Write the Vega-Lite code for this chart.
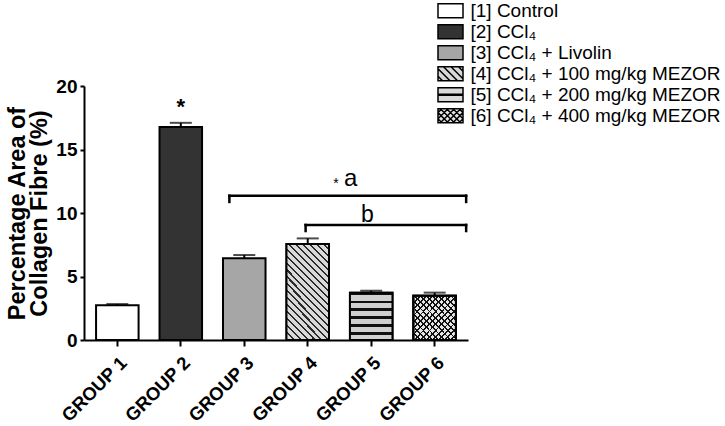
{
  "$schema": "https://vega.github.io/schema/vega-lite/v6.json",
  "width": 384,
  "height": 254,
  "autosize": "none",
  "padding": {"left": 84, "top": 86, "right": 257, "bottom": 86},
  "background": "white",
  "config": {
    "view": {"stroke": null},
    "font": "Liberation Sans",
    "axis": {"grid": false, "domainColor": "black", "domainWidth": 2, "tickColor": "black", "tickWidth": 2, "labelColor": "black", "titleColor": "black", "labelFont": "Liberation Sans", "titleFont": "Liberation Sans"}
  },
  "datasets": {
    "bars": [
      {"group": "GROUP 1", "treatment": "[1] Control", "value": 2.73, "upper": 2.83},
      {"group": "GROUP 2", "treatment": "[2] CCl₄", "value": 16.77, "upper": 17.1},
      {"group": "GROUP 3", "treatment": "[3] CCl₄ + Livolin", "value": 6.43, "upper": 6.69},
      {"group": "GROUP 4", "treatment": "[4] CCl₄ + 100 mg/kg MEZOR", "value": 7.56, "upper": 8.0},
      {"group": "GROUP 5", "treatment": "[5] CCl₄ + 200 mg/kg MEZOR", "value": 3.73, "upper": 3.88},
      {"group": "GROUP 6", "treatment": "[6] CCl₄ + 400 mg/kg MEZOR", "value": 3.49, "upper": 3.73}
    ],
    "brackets": [
      {"name": "a", "from": "GROUP 3", "to": "GROUP 6", "y": 11.36, "ylo": 10.87},
      {"name": "b", "from": "GROUP 4", "to": "GROUP 6", "y": 9.06, "ylo": 8.58}
    ]
  },
  "layer": [
    {
      "data": {"name": "bars"},
      "mark": {"type": "bar", "stroke": "black", "strokeWidth": 2},
      "encoding": {
        "x": {"field": "group", "type": "nominal", "scale": {"paddingInner": 0.33, "paddingOuter": 0.19},
          "axis": {"title": null, "labelAngle": -45, "labelAlign": "right", "labelBaseline": "top", "labelFontSize": 18.5, "labelFontWeight": "bold", "tickSize": 6, "labelPadding": 7}},
        "y": {"field": "value", "type": "quantitative", "scale": {"domain": [0, 20], "nice": false},
          "axis": {"values": [0, 5, 10, 15, 20], "labelFontSize": 19, "labelFontWeight": "bold", "tickSize": 4, "labelPadding": 3,
            "title": ["Percentage Area of", "Collagen Fibre (%)"], "titleFontSize": 23.5, "titleFontWeight": "bold", "titleLineHeight": 22, "titlePadding": 4}},
        "color": {"field": "group", "type": "nominal", "legend": null,
          "scale": {"domain": ["GROUP 1", "GROUP 2", "GROUP 3", "GROUP 4", "GROUP 5", "GROUP 6"], "range": ["#ffffff", "#333333", "#a6a6a6", "#d9d9d9", "#d0d0d0", "#e6e6e6"]}}
      }
    },
    {
      "data": {"name": "bars"},
      "transform": [{"filter": "datum.group === 'GROUP 4'"}],
      "mark": {"type": "bar", "stroke": "black", "strokeWidth": 2,
        "fill": {"gradient": "linear", "x1": 0, "y1": 1, "x2": 0.54, "y2": -0.206, "stops": [
          {"offset": 0, "color": "#2b2b2b"}, {"offset": 0.015, "color": "#2b2b2b"}, {"offset": 0.015, "color": "#d9d9d9"}, {"offset": 0.05, "color": "#d9d9d9"},
          {"offset": 0.05, "color": "#2b2b2b"}, {"offset": 0.065, "color": "#2b2b2b"}, {"offset": 0.065, "color": "#d9d9d9"}, {"offset": 0.1, "color": "#d9d9d9"},
          {"offset": 0.1, "color": "#2b2b2b"}, {"offset": 0.115, "color": "#2b2b2b"}, {"offset": 0.115, "color": "#d9d9d9"}, {"offset": 0.15, "color": "#d9d9d9"},
          {"offset": 0.15, "color": "#2b2b2b"}, {"offset": 0.165, "color": "#2b2b2b"}, {"offset": 0.165, "color": "#d9d9d9"}, {"offset": 0.2, "color": "#d9d9d9"},
          {"offset": 0.2, "color": "#2b2b2b"}, {"offset": 0.215, "color": "#2b2b2b"}, {"offset": 0.215, "color": "#d9d9d9"}, {"offset": 0.25, "color": "#d9d9d9"},
          {"offset": 0.25, "color": "#2b2b2b"}, {"offset": 0.265, "color": "#2b2b2b"}, {"offset": 0.265, "color": "#d9d9d9"}, {"offset": 0.3, "color": "#d9d9d9"},
          {"offset": 0.3, "color": "#2b2b2b"}, {"offset": 0.315, "color": "#2b2b2b"}, {"offset": 0.315, "color": "#d9d9d9"}, {"offset": 0.35, "color": "#d9d9d9"},
          {"offset": 0.35, "color": "#2b2b2b"}, {"offset": 0.365, "color": "#2b2b2b"}, {"offset": 0.365, "color": "#d9d9d9"}, {"offset": 0.4, "color": "#d9d9d9"},
          {"offset": 0.4, "color": "#2b2b2b"}, {"offset": 0.415, "color": "#2b2b2b"}, {"offset": 0.415, "color": "#d9d9d9"}, {"offset": 0.45, "color": "#d9d9d9"},
          {"offset": 0.45, "color": "#2b2b2b"}, {"offset": 0.465, "color": "#2b2b2b"}, {"offset": 0.465, "color": "#d9d9d9"}, {"offset": 0.5, "color": "#d9d9d9"},
          {"offset": 0.5, "color": "#2b2b2b"}, {"offset": 0.515, "color": "#2b2b2b"}, {"offset": 0.515, "color": "#d9d9d9"}, {"offset": 0.55, "color": "#d9d9d9"},
          {"offset": 0.55, "color": "#2b2b2b"}, {"offset": 0.565, "color": "#2b2b2b"}, {"offset": 0.565, "color": "#d9d9d9"}, {"offset": 0.6, "color": "#d9d9d9"},
          {"offset": 0.6, "color": "#2b2b2b"}, {"offset": 0.615, "color": "#2b2b2b"}, {"offset": 0.615, "color": "#d9d9d9"}, {"offset": 0.65, "color": "#d9d9d9"},
          {"offset": 0.65, "color": "#2b2b2b"}, {"offset": 0.665, "color": "#2b2b2b"}, {"offset": 0.665, "color": "#d9d9d9"}, {"offset": 0.7, "color": "#d9d9d9"},
          {"offset": 0.7, "color": "#2b2b2b"}, {"offset": 0.715, "color": "#2b2b2b"}, {"offset": 0.715, "color": "#d9d9d9"}, {"offset": 0.75, "color": "#d9d9d9"},
          {"offset": 0.75, "color": "#2b2b2b"}, {"offset": 0.765, "color": "#2b2b2b"}, {"offset": 0.765, "color": "#d9d9d9"}, {"offset": 0.8, "color": "#d9d9d9"},
          {"offset": 0.8, "color": "#2b2b2b"}, {"offset": 0.815, "color": "#2b2b2b"}, {"offset": 0.815, "color": "#d9d9d9"}, {"offset": 0.85, "color": "#d9d9d9"},
          {"offset": 0.85, "color": "#2b2b2b"}, {"offset": 0.865, "color": "#2b2b2b"}, {"offset": 0.865, "color": "#d9d9d9"}, {"offset": 0.9, "color": "#d9d9d9"},
          {"offset": 0.9, "color": "#2b2b2b"}, {"offset": 0.915, "color": "#2b2b2b"}, {"offset": 0.915, "color": "#d9d9d9"}, {"offset": 0.95, "color": "#d9d9d9"},
          {"offset": 0.95, "color": "#2b2b2b"}, {"offset": 0.965, "color": "#2b2b2b"}, {"offset": 0.965, "color": "#d9d9d9"}, {"offset": 1, "color": "#d9d9d9"}
        ]}},
      "encoding": {
        "x": {"field": "group", "type": "nominal"},
        "y": {"field": "value", "type": "quantitative"}
      }
    },
    {
      "data": {"name": "bars"},
      "transform": [{"filter": "datum.group === 'GROUP 5'"}],
      "mark": {"type": "bar", "stroke": "black", "strokeWidth": 2,
        "fill": {"gradient": "linear", "x1": 0, "y1": 0, "x2": 0, "y2": 1, "stops": [
          {"offset": 0, "color": "#111111"}, {"offset": 0.055, "color": "#111111"}, {"offset": 0.055, "color": "#d0d0d0"}, {"offset": 0.1667, "color": "#d0d0d0"},
          {"offset": 0.1667, "color": "#111111"}, {"offset": 0.2222, "color": "#111111"}, {"offset": 0.2222, "color": "#d0d0d0"}, {"offset": 0.3333, "color": "#d0d0d0"},
          {"offset": 0.3333, "color": "#111111"}, {"offset": 0.3889, "color": "#111111"}, {"offset": 0.3889, "color": "#d0d0d0"}, {"offset": 0.5, "color": "#d0d0d0"},
          {"offset": 0.5, "color": "#111111"}, {"offset": 0.5556, "color": "#111111"}, {"offset": 0.5556, "color": "#d0d0d0"}, {"offset": 0.6667, "color": "#d0d0d0"},
          {"offset": 0.6667, "color": "#111111"}, {"offset": 0.7222, "color": "#111111"}, {"offset": 0.7222, "color": "#d0d0d0"}, {"offset": 0.8333, "color": "#d0d0d0"},
          {"offset": 0.8333, "color": "#111111"}, {"offset": 0.8889, "color": "#111111"}, {"offset": 0.8889, "color": "#d0d0d0"}, {"offset": 1, "color": "#d0d0d0"}
        ]}},
      "encoding": {
        "x": {"field": "group", "type": "nominal"},
        "y": {"field": "value", "type": "quantitative"}
      }
    },
    {
      "data": {"name": "bars"},
      "transform": [{"filter": "datum.group === 'GROUP 6'"}],
      "mark": {"type": "bar", "stroke": "black", "strokeWidth": 2,
        "fill": {"gradient": "linear", "x1": 0, "y1": 1, "x2": 1, "y2": 0, "stops": [
          {"offset": 0, "color": "#111111"}, {"offset": 0.0214, "color": "#111111"}, {"offset": 0.0214, "color": "#e6e6e6"}, {"offset": 0.0714, "color": "#e6e6e6"},
          {"offset": 0.0714, "color": "#111111"}, {"offset": 0.0929, "color": "#111111"}, {"offset": 0.0929, "color": "#e6e6e6"}, {"offset": 0.1429, "color": "#e6e6e6"},
          {"offset": 0.1429, "color": "#111111"}, {"offset": 0.1643, "color": "#111111"}, {"offset": 0.1643, "color": "#e6e6e6"}, {"offset": 0.2143, "color": "#e6e6e6"},
          {"offset": 0.2143, "color": "#111111"}, {"offset": 0.2357, "color": "#111111"}, {"offset": 0.2357, "color": "#e6e6e6"}, {"offset": 0.2857, "color": "#e6e6e6"},
          {"offset": 0.2857, "color": "#111111"}, {"offset": 0.3071, "color": "#111111"}, {"offset": 0.3071, "color": "#e6e6e6"}, {"offset": 0.3571, "color": "#e6e6e6"},
          {"offset": 0.3571, "color": "#111111"}, {"offset": 0.3786, "color": "#111111"}, {"offset": 0.3786, "color": "#e6e6e6"}, {"offset": 0.4286, "color": "#e6e6e6"},
          {"offset": 0.4286, "color": "#111111"}, {"offset": 0.45, "color": "#111111"}, {"offset": 0.45, "color": "#e6e6e6"}, {"offset": 0.5, "color": "#e6e6e6"},
          {"offset": 0.5, "color": "#111111"}, {"offset": 0.5214, "color": "#111111"}, {"offset": 0.5214, "color": "#e6e6e6"}, {"offset": 0.5714, "color": "#e6e6e6"},
          {"offset": 0.5714, "color": "#111111"}, {"offset": 0.5929, "color": "#111111"}, {"offset": 0.5929, "color": "#e6e6e6"}, {"offset": 0.6429, "color": "#e6e6e6"},
          {"offset": 0.6429, "color": "#111111"}, {"offset": 0.6643, "color": "#111111"}, {"offset": 0.6643, "color": "#e6e6e6"}, {"offset": 0.7143, "color": "#e6e6e6"},
          {"offset": 0.7143, "color": "#111111"}, {"offset": 0.7357, "color": "#111111"}, {"offset": 0.7357, "color": "#e6e6e6"}, {"offset": 0.7857, "color": "#e6e6e6"},
          {"offset": 0.7857, "color": "#111111"}, {"offset": 0.8071, "color": "#111111"}, {"offset": 0.8071, "color": "#e6e6e6"}, {"offset": 0.8571, "color": "#e6e6e6"},
          {"offset": 0.8571, "color": "#111111"}, {"offset": 0.8786, "color": "#111111"}, {"offset": 0.8786, "color": "#e6e6e6"}, {"offset": 0.9286, "color": "#e6e6e6"},
          {"offset": 0.9286, "color": "#111111"}, {"offset": 0.95, "color": "#111111"}, {"offset": 0.95, "color": "#e6e6e6"}, {"offset": 1, "color": "#e6e6e6"}
        ]}},
      "encoding": {
        "x": {"field": "group", "type": "nominal"},
        "y": {"field": "value", "type": "quantitative"}
      }
    },
    {
      "data": {"name": "bars"},
      "transform": [{"filter": "datum.group === 'GROUP 6'"}],
      "mark": {"type": "bar", "stroke": "black", "strokeWidth": 2,
        "fill": {"gradient": "linear", "x1": 0, "y1": 0, "x2": 1, "y2": 1, "stops": [
          {"offset": 0, "color": "#111111"}, {"offset": 0.0214, "color": "#111111"}, {"offset": 0.0214, "color": "rgba(0,0,0,0)"}, {"offset": 0.0714, "color": "rgba(0,0,0,0)"},
          {"offset": 0.0714, "color": "#111111"}, {"offset": 0.0929, "color": "#111111"}, {"offset": 0.0929, "color": "rgba(0,0,0,0)"}, {"offset": 0.1429, "color": "rgba(0,0,0,0)"},
          {"offset": 0.1429, "color": "#111111"}, {"offset": 0.1643, "color": "#111111"}, {"offset": 0.1643, "color": "rgba(0,0,0,0)"}, {"offset": 0.2143, "color": "rgba(0,0,0,0)"},
          {"offset": 0.2143, "color": "#111111"}, {"offset": 0.2357, "color": "#111111"}, {"offset": 0.2357, "color": "rgba(0,0,0,0)"}, {"offset": 0.2857, "color": "rgba(0,0,0,0)"},
          {"offset": 0.2857, "color": "#111111"}, {"offset": 0.3071, "color": "#111111"}, {"offset": 0.3071, "color": "rgba(0,0,0,0)"}, {"offset": 0.3571, "color": "rgba(0,0,0,0)"},
          {"offset": 0.3571, "color": "#111111"}, {"offset": 0.3786, "color": "#111111"}, {"offset": 0.3786, "color": "rgba(0,0,0,0)"}, {"offset": 0.4286, "color": "rgba(0,0,0,0)"},
          {"offset": 0.4286, "color": "#111111"}, {"offset": 0.45, "color": "#111111"}, {"offset": 0.45, "color": "rgba(0,0,0,0)"}, {"offset": 0.5, "color": "rgba(0,0,0,0)"},
          {"offset": 0.5, "color": "#111111"}, {"offset": 0.5214, "color": "#111111"}, {"offset": 0.5214, "color": "rgba(0,0,0,0)"}, {"offset": 0.5714, "color": "rgba(0,0,0,0)"},
          {"offset": 0.5714, "color": "#111111"}, {"offset": 0.5929, "color": "#111111"}, {"offset": 0.5929, "color": "rgba(0,0,0,0)"}, {"offset": 0.6429, "color": "rgba(0,0,0,0)"},
          {"offset": 0.6429, "color": "#111111"}, {"offset": 0.6643, "color": "#111111"}, {"offset": 0.6643, "color": "rgba(0,0,0,0)"}, {"offset": 0.7143, "color": "rgba(0,0,0,0)"},
          {"offset": 0.7143, "color": "#111111"}, {"offset": 0.7357, "color": "#111111"}, {"offset": 0.7357, "color": "rgba(0,0,0,0)"}, {"offset": 0.7857, "color": "rgba(0,0,0,0)"},
          {"offset": 0.7857, "color": "#111111"}, {"offset": 0.8071, "color": "#111111"}, {"offset": 0.8071, "color": "rgba(0,0,0,0)"}, {"offset": 0.8571, "color": "rgba(0,0,0,0)"},
          {"offset": 0.8571, "color": "#111111"}, {"offset": 0.8786, "color": "#111111"}, {"offset": 0.8786, "color": "rgba(0,0,0,0)"}, {"offset": 0.9286, "color": "rgba(0,0,0,0)"},
          {"offset": 0.9286, "color": "#111111"}, {"offset": 0.95, "color": "#111111"}, {"offset": 0.95, "color": "rgba(0,0,0,0)"}, {"offset": 1, "color": "rgba(0,0,0,0)"}
        ]}},
      "encoding": {
        "x": {"field": "group", "type": "nominal"},
        "y": {"field": "value", "type": "quantitative"}
      }
    },
    {
      "data": {"name": "bars"},
      "mark": {"type": "rule", "color": "black", "strokeWidth": 2},
      "encoding": {
        "x": {"field": "group", "type": "nominal"},
        "y": {"field": "value", "type": "quantitative"},
        "y2": {"field": "upper"}
      }
    },
    {
      "data": {"name": "bars"},
      "mark": {"type": "tick", "color": "black", "size": 22, "thickness": 2},
      "encoding": {
        "x": {"field": "group", "type": "nominal"},
        "y": {"field": "upper", "type": "quantitative"}
      }
    },
    {
      "data": {"name": "bars"},
      "mark": {"type": "point", "filled": true, "opacity": 0},
      "encoding": {
        "x": {"field": "group", "type": "nominal"},
        "y": {"field": "value", "type": "quantitative"},
        "fill": {"field": "treatment", "type": "nominal",
          "scale": {"range": ["#ffffff", "#333333", "#a6a6a6", "#d9d9d9", "#d9d9d9", "#e6e6e6"]},
          "legend": {"title": null, "orient": "none", "legendX": 355.5, "legendY": -86.3, "symbolSize": 400, "labelFontSize": 19, "labelFont": "Liberation Sans", "labelColor": "black", "labelLimit": 400, "labelOffset": 9, "rowPadding": 0,
            "encode": {"symbols": {"update": {"stroke": {"value": "black"}, "strokeWidth": {"value": 1.5}, "opacity": {"value": 1}}}}}},
        "shape": {"field": "treatment", "type": "nominal",
          "scale": {"range": [
            "M-1.25,-0.7H1.25V0.7H-1.25Z",
            "M-1.25,-0.7H1.25V0.7H-1.25Z",
            "M-1.25,-0.7H1.25V0.7H-1.25Z",
            "M-1.25,-0.7H1.25V0.7H-1.25Z M-0.7,-0.7L0.7,0.7 M0.05,-0.7L1.25,0.5 M-1.25,-0.5L-0.05,0.7 M0.8,-0.7L1.25,-0.25 M-1.25,0.25L-0.8,0.7",
            "M-1.25,-0.7H1.25V0.7H-1.25Z M-1.25,-0.05H1.25V0.05H-1.25Z",
            "M-1.25,-0.7H1.25V0.7H-1.25Z M-1.25,0.31L-0.86,0.7 M-1.25,-0.31L-0.24,0.7 M-1.01,-0.7L0.39,0.7 M-0.39,-0.7L1.01,0.7 M0.24,-0.7L1.25,0.31 M0.86,-0.7L1.25,-0.31 M-0.86,-0.7L-1.25,-0.31 M-0.24,-0.7L-1.25,0.31 M0.39,-0.7L-1.01,0.7 M1.01,-0.7L-0.39,0.7 M1.25,-0.31L0.24,0.7 M1.25,0.31L0.86,0.7"
          ]},
          "legend": {"title": null, "orient": "none", "legendX": 355.5, "legendY": -86.3, "symbolSize": 400, "labelFontSize": 19, "labelFont": "Liberation Sans", "labelColor": "black", "labelLimit": 400, "labelOffset": 9, "rowPadding": 0,
            "encode": {"symbols": {"update": {"stroke": {"value": "black"}, "strokeWidth": {"value": 1.5}, "opacity": {"value": 1}}}}}}
      }
    },
    {
      "data": {"name": "brackets"},
      "transform": [{"filter": "datum.name === 'a'"}],
      "mark": {"type": "rule", "color": "black", "strokeWidth": 2.5, "strokeCap": "square"},
      "encoding": {
        "x": {"field": "from", "type": "nominal", "bandPosition": 0.15},
        "x2": {"field": "to", "bandPosition": 1.24},
        "y": {"field": "y", "type": "quantitative"}
      }
    },
    {
      "data": {"name": "brackets"},
      "transform": [{"filter": "datum.name === 'a'"}],
      "mark": {"type": "rule", "color": "black", "strokeWidth": 2.5, "strokeCap": "square"},
      "encoding": {
        "x": {"field": "from", "type": "nominal", "bandPosition": 0.15},
        "y": {"field": "y", "type": "quantitative"},
        "y2": {"field": "ylo"}
      }
    },
    {
      "data": {"name": "brackets"},
      "mark": {"type": "rule", "color": "black", "strokeWidth": 2.5, "strokeCap": "square"},
      "encoding": {
        "x": {"field": "to", "type": "nominal", "bandPosition": 1.24},
        "y": {"field": "y", "type": "quantitative"},
        "y2": {"field": "ylo"}
      }
    },
    {
      "data": {"name": "brackets"},
      "transform": [{"filter": "datum.name === 'b'"}],
      "mark": {"type": "rule", "color": "black", "strokeWidth": 2.5, "strokeCap": "square"},
      "encoding": {
        "x": {"field": "from", "type": "nominal", "bandPosition": 0.45},
        "x2": {"field": "to", "bandPosition": 1.24},
        "y": {"field": "y", "type": "quantitative"}
      }
    },
    {
      "data": {"name": "brackets"},
      "transform": [{"filter": "datum.name === 'b'"}],
      "mark": {"type": "rule", "color": "black", "strokeWidth": 2.5, "strokeCap": "square"},
      "encoding": {
        "x": {"field": "from", "type": "nominal", "bandPosition": 0.45},
        "y": {"field": "y", "type": "quantitative"},
        "y2": {"field": "ylo"}
      }
    },
    {
      "data": {"values": [{"group": "GROUP 2", "pos": 17.8, "label": "*"}]},
      "mark": {"type": "text", "font": "Liberation Sans", "fontSize": 22, "fontWeight": "bold", "baseline": "alphabetic", "align": "center", "color": "black"},
      "encoding": {
        "x": {"field": "group", "type": "nominal"},
        "y": {"field": "pos", "type": "quantitative"},
        "text": {"field": "label"}
      }
    },
    {
      "data": {"values": [{"group": "GROUP 5", "pos": 11.97, "label": "*"}]},
      "mark": {"type": "text", "font": "Liberation Sans", "fontSize": 14, "baseline": "alphabetic", "align": "center", "color": "black"},
      "encoding": {
        "x": {"field": "group", "type": "nominal", "bandPosition": -0.33},
        "y": {"field": "pos", "type": "quantitative"},
        "text": {"field": "label"}
      }
    },
    {
      "data": {"values": [{"group": "GROUP 5", "pos": 12.13, "label": "a"}]},
      "mark": {"type": "text", "font": "Liberation Sans", "fontSize": 24, "baseline": "alphabetic", "align": "center", "color": "black"},
      "encoding": {
        "x": {"field": "group", "type": "nominal", "bandPosition": 0.02},
        "y": {"field": "pos", "type": "quantitative"},
        "text": {"field": "label"}
      }
    },
    {
      "data": {"values": [{"group": "GROUP 5", "pos": 9.31, "label": "b"}]},
      "mark": {"type": "text", "font": "Liberation Sans", "fontSize": 23, "baseline": "alphabetic", "align": "center", "color": "black"},
      "encoding": {
        "x": {"field": "group", "type": "nominal", "bandPosition": 0.41},
        "y": {"field": "pos", "type": "quantitative"},
        "text": {"field": "label"}
      }
    }
  ]
}
